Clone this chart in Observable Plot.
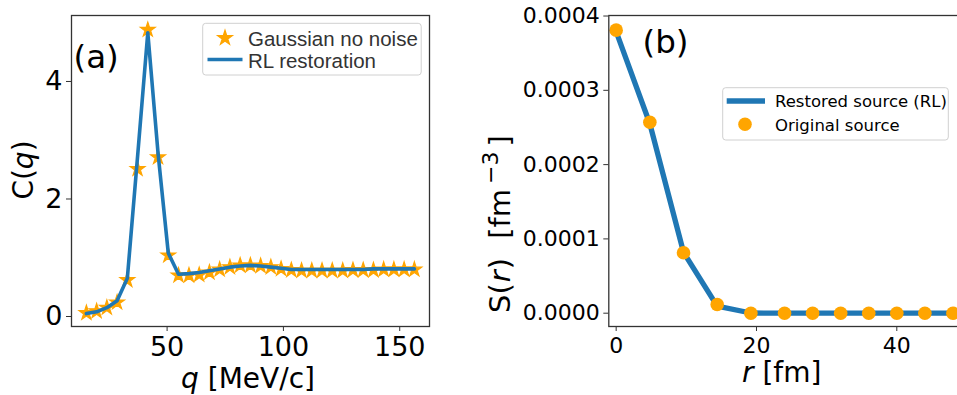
<!DOCTYPE html>
<html>
<head>
<meta charset="utf-8">
<script src="https://cdn.jsdelivr.net/npm/d3@7"></script>
<script src="https://cdn.jsdelivr.net/npm/@observablehq/plot@0.6"></script>
<style>
  html, body { margin: 0; padding: 0; background: white; overflow: hidden; }
  #wrap { position: relative; width: 957px; height: 395px; overflow: hidden; background: white; }
  #wrap > div { position: absolute; top: 0; }
</style>
</head>
<body>
<div id="wrap"><div id="pa" style="left:0px"></div><div id="pb" style="left:470px"></div></div>
<script>
// ---------- Panel (a) data ----------
const qValues = [15.3, 19.7, 24.1, 28.5, 32.9, 37.3, 41.7, 46.1, 50.5, 54.9, 59.4, 63.8, 68.2, 72.6, 77.0, 81.4, 85.8, 90.2, 94.6, 99.0, 103.4, 107.8, 112.2, 116.6, 121.0, 125.5, 129.9, 134.3, 138.7, 143.1, 147.5, 151.9, 156.3];
const cGaussian = [0.06, 0.09, 0.15, 0.24, 0.62, 2.51, 4.88, 2.71, 1.04, 0.70, 0.70, 0.71, 0.75, 0.80, 0.84, 0.87, 0.87, 0.86, 0.84, 0.81, 0.79, 0.78, 0.78, 0.78, 0.78, 0.78, 0.79, 0.79, 0.79, 0.80, 0.80, 0.80, 0.80];
const cRL = [0.05, 0.08, 0.15, 0.27, 0.65, 2.72, 4.83, 2.78, 1.08, 0.72, 0.73, 0.75, 0.78, 0.81, 0.84, 0.86, 0.87, 0.86, 0.84, 0.82, 0.80, 0.80, 0.80, 0.80, 0.80, 0.80, 0.80, 0.80, 0.81, 0.81, 0.81, 0.81, 0.81];
const xTicksA = [50, 100, 150];
const yTicksA = [0, 2, 4];

// ---------- Panel (b) data ----------
const rValues = [0, 4.8, 9.6, 14.4, 19.2, 24, 28, 32, 36, 40, 44, 48];
const sOriginal = [0.000381, 0.000257, 0.0000813, 0.0000117, 0, 0, 0, 0, 0, 0, 0, 0];
const sRestored = [0.000379, 0.000255, 0.0000820, 0.0000095, 0.0000003, 0, 0, 0, 0, 0, 0, 0];
const xTicksB = [0, 20, 40];
const yTicksB = [0, 0.0001, 0.0002, 0.0003, 0.0004];

const blue = "#1f77b4", orange = "orange", spine = "#333";

const dataA = qValues.map((q, i) => ({q, g: cGaussian[i], rl: cRL[i]}));
const dataB = rValues.map((r, i) => ({r, orig: sOriginal[i], rest: sRestored[i]}));

const plotA = Plot.plot({
  width: 460, height: 395,
  marginLeft: 71, marginRight: 31, marginTop: 15, marginBottom: 69,
  x: {domain: [8.9, 162.8]},
  y: {domain: [-0.17, 5.123]},
  style: {fontFamily: "DejaVu Sans", fontSize: "27px", color: "black", background: "transparent", maxWidth: "none", overflow: "visible"},
  marks: [
    Plot.axisX({ticks: xTicksA, tickSize: 5, tickPadding: 5, label: null, stroke: spine, tickFormat: d3.format("d")}),
    Plot.axisY({ticks: yTicksA, tickSize: 5, tickPadding: 4, label: null, stroke: spine, tickFormat: d3.format("d")}),
    Plot.dot(dataA, {x: "q", y: "g", symbol: "star", r: 4.6, fill: orange, stroke: orange, strokeWidth: 1.2}),
    Plot.line(dataA, {x: "q", y: "rl", stroke: blue, strokeWidth: 3.6}),
    Plot.frame({stroke: spine, strokeWidth: 1.3})
  ]
});
document.getElementById("pa").appendChild(plotA);

const plotB = Plot.plot({
  width: 520, height: 395,
  marginLeft: 138.3, marginRight: 9.5, marginTop: 15, marginBottom: 69,
  x: {domain: [-1.05, 52]},
  y: {domain: [-0.0000179, 0.0004007]},
  style: {fontFamily: "DejaVu Sans", fontSize: "22px", color: "black", background: "transparent", maxWidth: "none", overflow: "visible"},
  marks: [
    Plot.axisX({ticks: xTicksB, tickSize: 5, tickPadding: 6, label: null, stroke: spine, tickFormat: d3.format("d")}),
    Plot.axisY({ticks: yTicksB, tickSize: 5, tickPadding: 4, label: null, stroke: spine, tickFormat: d3.format(".4f")}),
    Plot.line(dataB, {x: "r", y: "rest", stroke: blue, strokeWidth: 5.3}),
    Plot.dot(dataB, {x: "r", y: "orig", r: 6.8, fill: orange, stroke: "none"}),
    Plot.frame({stroke: spine, strokeWidth: 1.3})
  ]
});
document.getElementById("pb").appendChild(plotB);

// ---------- annotations, axis titles, legends ----------
function txt(svg, x, y, size, opts = {}) {
  const t = svg.append("text").attr("x", x).attr("y", y)
    .style("font-size", size + "px")
    .style("font-family", opts.family || "'DejaVu Sans'")
    .attr("fill", opts.fill || "black")
    .attr("text-anchor", opts.anchor || "start");
  if (opts.rotate) t.attr("transform", `rotate(-90 ${x} ${y})`);
  return t;
}
const sa = d3.select(plotA);
const sb = d3.select(plotB);

// panel a
txt(sa, 73.5, 67.5, 32.5).text("(a)");
{
  const t = txt(sa, 248, 388, 28, {anchor: "middle"});
  t.append("tspan").attr("font-style", "italic").text("q");
  t.append("tspan").text(" [MeV/c]");
}
{
  const t = txt(sa, 33, 170, 28, {anchor: "middle", rotate: true});
  t.append("tspan").text("C(");
  t.append("tspan").attr("font-style", "italic").text("q");
  t.append("tspan").text(")");
}
// legend a
sa.append("rect").attr("x", 202.7).attr("y", 23.3).attr("width", 218.5).attr("height", 51.7)
  .attr("rx", 3).attr("fill", "white").attr("fill-opacity", 0.8).attr("stroke", "#d0d0d0");
sa.append("path").attr("d", d3.symbol(d3.symbolStar, Math.PI * 4.6 * 4.6)())
  .attr("transform", "translate(225,38)").attr("fill", orange).attr("stroke", orange).attr("stroke-width", 1.2);
sa.append("line").attr("x1", 207.5).attr("x2", 242.5).attr("y1", 59.5).attr("y2", 59.5)
  .attr("stroke", blue).attr("stroke-width", 3.6);
txt(sa, 248, 45.7, 20.5, {family: "'Liberation Sans'", fill: "#333"}).text("Gaussian no noise");
txt(sa, 248, 67.7, 20.5, {family: "'Liberation Sans'", fill: "#333"}).text("RL restoration");

// panel b (svg offset 470)
const ox = 470;
txt(sb, 642.5 - ox, 52.5, 32.5).text("(b)");
{
  const t = txt(sb, 781.7 - ox, 382, 28, {anchor: "middle"});
  t.append("tspan").attr("font-style", "italic").text("r");
  t.append("tspan").text(" [fm]");
}
{
  const t = txt(sb, 510.3 - ox, 313, 29, {anchor: "start", rotate: true});
  t.append("tspan").text("S(");
  t.append("tspan").attr("font-style", "italic").attr("dx", 1).text("r");
  t.append("tspan").attr("dx", 1).text(")");
  t.append("tspan").attr("dx", 10).text(" [fm");
  t.append("tspan").style("font-size", "22px").attr("dx", 5).attr("dy", -12).text("\u22123");
  t.append("tspan").attr("dx", 5).attr("dy", 12).text("]");
}
// legend b
sb.append("rect").attr("x", 722.7 - ox).attr("y", 87.7).attr("width", 225.6).attr("height", 52.3)
  .attr("rx", 3).attr("fill", "white").attr("fill-opacity", 0.8).attr("stroke", "#d0d0d0");
sb.append("line").attr("x1", 726.7 - ox).attr("x2", 765 - ox).attr("y1", 101).attr("y2", 101)
  .attr("stroke", blue).attr("stroke-width", 5.3);
sb.append("circle").attr("cx", 745 - ox).attr("cy", 124.3).attr("r", 6.8).attr("fill", orange);
txt(sb, 775 - ox, 107.3, 16.5).text("Restored source (RL)");
txt(sb, 775 - ox, 130.5, 16.5).text("Original source");
</script>
</body>
</html>
